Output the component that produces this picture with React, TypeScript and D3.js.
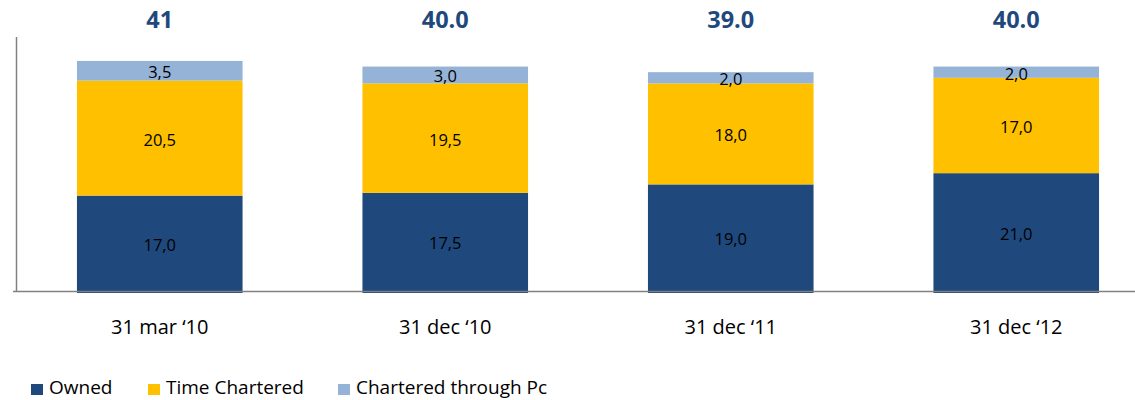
import React from "react";
import * as d3 from "d3";

const categories = ["31 mar ‘10", "31 dec ‘10", "31 dec ‘11", "31 dec ‘12"];
const owned = [17.0, 17.5, 19.0, 21.0];
const timeChartered = [20.5, 19.5, 18.0, 17.0];
const charteredPc = [3.5, 3.0, 2.0, 2.0];
const totals = ["41", "40.0", "39.0", "40.0"];
const seriesNames = ["Owned", "Time Chartered", "Chartered through Pc"];
const colors = ["#1F497D", "#FFC000", "#95B3D7"];

const W = 1135;
const H = 400;
const FONT = "'Open Sans', sans-serif";

export default function App() {
  const x = d3.scaleBand<string>().domain(categories).range([17, 1159]).paddingInner(0.42).paddingOuter(0.21);
  const y = d3.scaleLinear().domain([0, 45]).range([291, 38.5]);

  const rows = categories.map((c, i) => ({ cat: c, Owned: owned[i], "Time Chartered": timeChartered[i], "Chartered through Pc": charteredPc[i] }));
  const stack = d3.stack<any>().keys(seriesNames)(rows);
  const fmt = (v: number) => v.toFixed(1).replace(".", ",");

  const legendX = [31, 148, 338];

  return (
    <svg width={W} height={H} style={{ position: "absolute", left: 0, top: 0 }} fontFamily={FONT}>
      <rect width={W} height={H} fill="#fff" />
      {stack.map((layer, si) => (
        <g key={si}>
          {layer.map((d, i) => {
            const x0 = x(categories[i])!;
            const y0 = y(d[1]);
            const h = y(d[0]) - y(d[1]);
            return (
              <g key={i}>
                <rect x={x0} y={y0} width={x.bandwidth()} height={h + (si === 0 ? 2 : 0)} fill={colors[si]} />
                <text x={x0 + x.bandwidth() / 2} y={y0 + h / 2 + 1} textAnchor="middle" dominantBaseline="central" fontSize={16.5} fill="#000">
                  {fmt(d[1] - d[0])}
                </text>
              </g>
            );
          })}
        </g>
      ))}
      <line x1={16.5} x2={16.5} y1={37} y2={292} stroke="#808080" strokeWidth={1.5} />
      <line x1={13} x2={W} y1={291.5} y2={291.5} stroke="#808080" strokeWidth={1.5} />
      {categories.map((c, i) => (
        <g key={c}>
          <text x={x(c)! + x.bandwidth() / 2} y={19} textAnchor="middle" dominantBaseline="central" fontSize={23.5} fontWeight="bold" fill="#1F497D">
            {totals[i]}
          </text>
          <text x={x(c)! + x.bandwidth() / 2} y={326} textAnchor="middle" dominantBaseline="central" fontSize={20} fill="#000">
            {c}
          </text>
        </g>
      ))}
      {seriesNames.map((s, i) => (
        <g key={s}>
          <rect x={legendX[i]} y={384} width={12} height={11} fill={colors[i]} />
          <text x={legendX[i] + 18} y={394} fontSize={19} fill="#000">{s}</text>
        </g>
      ))}
    </svg>
  );
}
